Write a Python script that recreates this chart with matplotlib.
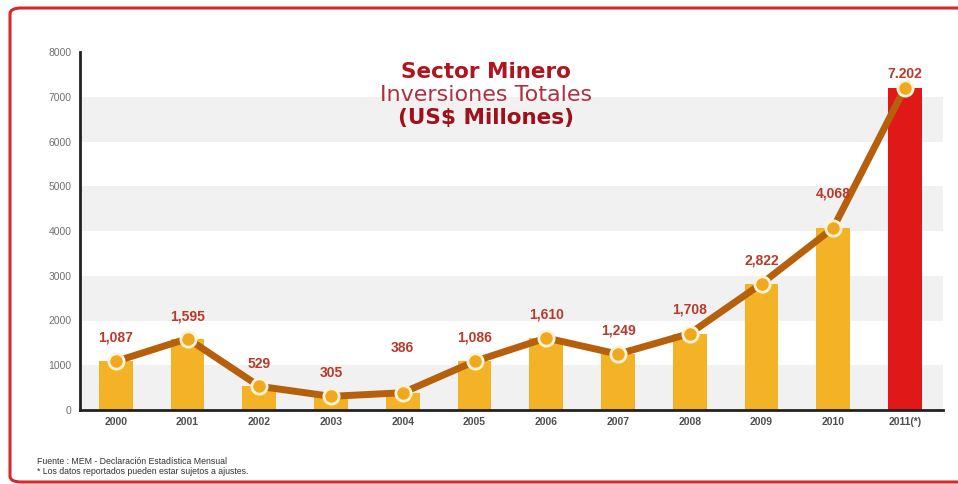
import matplotlib
matplotlib.use("Agg")
import matplotlib.pyplot as plt
from matplotlib.patches import FancyBboxPatch

years = ["2000", "2001", "2002", "2003", "2004", "2005", "2006", "2007", "2008", "2009", "2010", "2011(*)"]
values = [1087, 1595, 529, 305, 386, 1086, 1610, 1249, 1708, 2822, 4068, 7202]
value_labels = ["1,087", "1,595", "529", "305", "386", "1,086", "1,610", "1,249", "1,708", "2,822", "4,068", "7.202"]
yticks = [0, 1000, 2000, 3000, 4000, 5000, 6000, 7000, 8000]

label_offsets = [12, 11, 11, 12, 27, 12, 12, 12, 12, 12, 20, 5]

fig = plt.figure(figsize=(9.58, 4.84), dpi=100)
fig.patch.set_facecolor("white")

border = FancyBboxPatch((10 / 958, 2 / 484), 960 / 958, 474 / 484,
                        boxstyle="round,pad=0,rounding_size=0.012",
                        transform=fig.transFigure, facecolor="none",
                        edgecolor="#D42A2A", linewidth=2.2, zorder=0)
fig.patches.append(border)

ax = fig.add_axes([80 / 958, 1 - 410 / 484, (943 - 80) / 958, (410 - 52) / 484])
x = list(range(len(years)))

for lo in (0, 2000, 4000, 6000):
    ax.axhspan(lo, lo + 1000, color="#F1F1F1", zorder=0, lw=0)

colors = ["#F4B226"] * (len(years) - 1) + ["#E01818"]
ax.bar(x, values, width=0.47, color=colors, zorder=2)

ax.plot(x, values, color="#B6600C", lw=5, zorder=3, solid_capstyle="round")
ax.plot(x, values, "o", ms=11, mfc="#F0A81E", mec="#FFF4D8", mew=2, zorder=4, ls="none")

for xi, v, lab, off in zip(x, values, value_labels, label_offsets):
    ax.annotate(lab, (xi, v), xytext=(0, off), textcoords="offset points",
                ha="center", va="bottom", fontsize=10, fontweight="bold",
                color="#B83A2A", family="Liberation Sans", zorder=5)

ax.set_xlim(-0.5, 11.53)
ax.set_ylim(0, 8000)
ax.set_yticks(yticks)
ax.set_yticklabels([str(t) for t in yticks])
ax.set_xticks(x)
ax.set_xticklabels(years)
ax.tick_params(axis="both", length=0, labelsize=7.5)
ax.tick_params(axis="y", pad=6, labelcolor="#707070")
ax.tick_params(axis="x", pad=5, labelcolor="#505050")
for lab in ax.get_xticklabels():
    lab.set_fontweight("bold")
    lab.set_family("Liberation Sans")
for lab in ax.get_yticklabels():
    lab.set_family("Liberation Sans")

for s in ("top", "right"):
    ax.spines[s].set_visible(False)
ax.spines["left"].set_linewidth(2)
ax.spines["bottom"].set_linewidth(2)
ax.spines["left"].set_color("#222222")
ax.spines["bottom"].set_color("#222222")
ax.set_facecolor("none")

fig.text(486 / 958, 1 - 72 / 484, "Sector Minero", ha="center", va="center",
         fontsize=15.5, fontweight="bold", color="#B0141E", family="DejaVu Sans")
fig.text(486 / 958, 1 - 95 / 484, "Inversiones Totales", ha="center", va="center",
         fontsize=16, color="#B03040", family="DejaVu Sans")
fig.text(486 / 958, 1 - 118 / 484, "(US$ Millones)", ha="center", va="center",
         fontsize=15.5, fontweight="bold", color="#A0101A", family="DejaVu Sans")

fig.text(37 / 958, 1 - 461 / 484, "Fuente : MEM - Declaración Estadística Mensual",
         ha="left", va="center", fontsize=6.3, color="#333333", family="Liberation Sans")
fig.text(37 / 958, 1 - 472 / 484, "* Los datos reportados pueden estar sujetos a ajustes.",
         ha="left", va="center", fontsize=6.3, color="#333333", family="Liberation Sans")

fig.savefig("out.png", dpi=100)
